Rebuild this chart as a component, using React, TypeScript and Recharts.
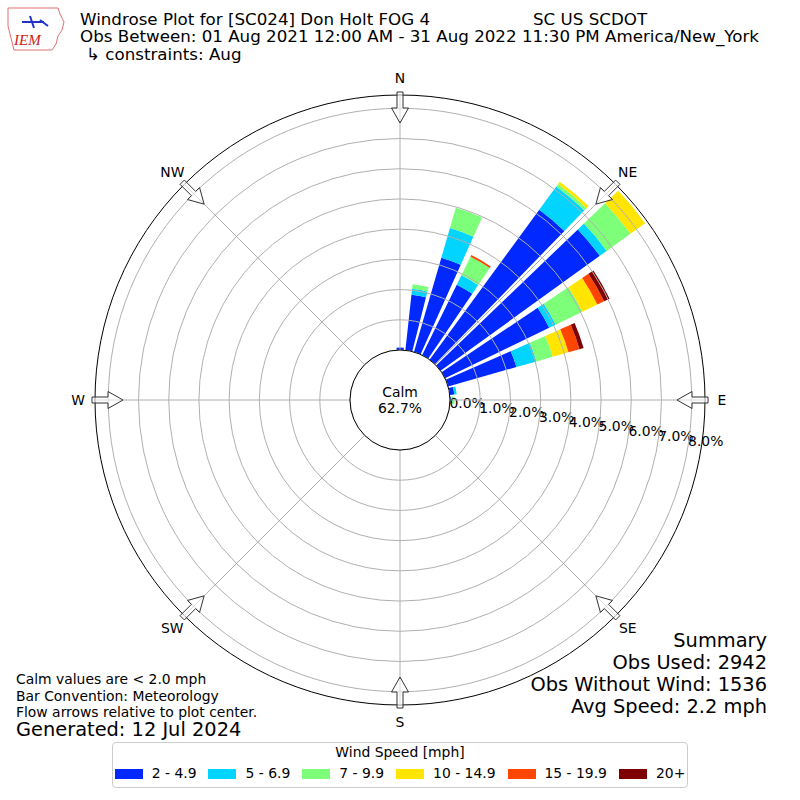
import React from 'react';
import {
  RadialBarChart,
  RadialBar,
  PolarAngleAxis,
  PolarRadiusAxis,
  PolarGrid,
  Legend,
} from 'recharts';

// direction bins, degrees clockwise from north
const directions = [
  0, 10, 20, 30, 40, 50, 60, 70, 80, 90, 100, 110, 120, 130, 140, 150, 160, 170,
  180, 190, 200, 210, 220, 230, 240, 250, 260, 270, 280, 290, 300, 310, 320, 330, 340, 350,
];

// percent of observations per direction, one array per speed bin
const pct2to5 = [
  0.08, 1.85, 3.25, 2.6, 6.15, 6.5, 3.83, 2.35, 0.15, 0.03, 0, 0, 0, 0, 0, 0, 0, 0,
  0, 0, 0, 0, 0, 0, 0, 0, 0, 0, 0, 0, 0, 0, 0, 0, 0, 0,
];
const pct5to7 = [
  0, 0.2, 1.02, 0.35, 0.95, 0.28, 0.24, 0.69, 0.08, 0, 0, 0, 0, 0, 0, 0, 0, 0,
  0, 0, 0, 0, 0, 0, 0, 0, 0, 0, 0, 0, 0, 0, 0, 0, 0, 0,
];
const pct7to10 = [
  0, 0.15, 0.7, 0.68, 0.1, 0.97, 0.98, 0.56, 0, 0.12, 0, 0, 0, 0, 0, 0, 0, 0,
  0, 0, 0, 0, 0, 0, 0, 0, 0, 0, 0, 0, 0, 0, 0, 0, 0, 0,
];
const pct10to15 = [
  0, 0, 0, 0, 0.1, 0.6, 0.55, 0.54, 0, 0, 0, 0, 0, 0, 0, 0, 0, 0,
  0, 0, 0, 0, 0, 0, 0, 0, 0, 0, 0, 0, 0, 0, 0, 0, 0, 0,
];
const pct15to20 = [
  0, 0, 0, 0.06, 0, 0, 0.25, 0.38, 0, 0, 0, 0, 0, 0, 0, 0, 0, 0,
  0, 0, 0, 0, 0, 0, 0, 0, 0, 0, 0, 0, 0, 0, 0, 0, 0, 0,
];
const pct20plus = [
  0, 0, 0, 0, 0, 0, 0.2, 0.14, 0, 0, 0, 0, 0, 0, 0, 0, 0, 0,
  0, 0, 0, 0, 0, 0, 0, 0, 0, 0, 0, 0, 0, 0, 0, 0, 0, 0,
];

const speedBins = ['2 - 4.9', '5 - 6.9', '7 - 9.9', '10 - 14.9', '15 - 19.9', '20+'];
const binKeys = ['s1', 's2', 's3', 's4', 's5', 's6'];
const binColors = ['#0028ff', '#00d4ff', '#7dff7a', '#ffe500', '#ff4600', '#7f0000'];

const radiusTicks = [0, 1, 2, 3, 4, 5, 6, 7, 8];
const compassPoints = ['N', 'NE', 'E', 'SE', 'S', 'SW', 'W', 'NW'];
const compassDegrees = [0, 45, 90, 135, 180, 225, 270, 315];

const calmPct = 62.7;

const FONT = '"DejaVu Sans", sans-serif';
const SMALL = 13.9;
const CX = 400;
const CY = 400;
const INNER_R = 50;
const OUTER_R = 305;

const chartData = directions.map((dir, i) => ({
  dir,
  s1: pct2to5[i],
  s2: pct5to7[i],
  s3: pct7to10[i],
  s4: pct10to15[i],
  s5: pct15to20[i],
  s6: pct20plus[i],
}));

const renderCompassTick = (props: any) => {
  const value = props.payload.value;
  const idx = compassDegrees.indexOf(value);
  const a = ((90 - value) * Math.PI) / 180;
  const ux = Math.cos(a);
  const uy = -Math.sin(a);
  const vx = -uy;
  const vy = ux;
  const pt = (r: number, w: number) => `${CX + ux * r + vx * w},${CY + uy * r + vy * w}`;
  const arrow = [
    pt(308, -3), pt(292, -3), pt(292, -8.5), pt(277, 0), pt(292, 8.5), pt(292, 3), pt(308, 3),
  ].join(' ');
  return (
    <g>
      <polygon points={arrow} fill="#ffffff" fillOpacity={0.55} stroke="#333" strokeWidth={1} />
      <text
        x={CX + ux * 322}
        y={CY + uy * 322}
        textAnchor="middle"
        dominantBaseline="central"
        fontSize={SMALL}
        fontFamily={FONT}
        fill="#000"
      >
        {compassPoints[idx]}
      </text>
    </g>
  );
};

const renderRadiusTick = (props: any) => (
  <text x={props.x} y={props.y} textAnchor="start" fontSize={SMALL} fontFamily={FONT} fill="#000">
    {`${Number(props.payload.value).toFixed(1)}%`}
  </text>
);

const renderLegend = () => (
  <div
    style={{
      boxSizing: 'border-box',
      width: 576,
      height: 46,
      border: '1px solid #cccccc',
      borderRadius: 4,
      background: '#fff',
      fontFamily: FONT,
      fontSize: SMALL,
      color: '#000',
    }}
  >
    <div style={{ textAlign: 'center', marginTop: 1, lineHeight: '17px' }}>Wind Speed [mph]</div>
    <div style={{ display: 'flex', justifyContent: 'center', alignItems: 'center', marginTop: 4, gap: 12 }}>
      {speedBins.map((label, i) => (
        <div key={label} style={{ display: 'flex', alignItems: 'center', lineHeight: '17px' }}>
          <span style={{ display: 'inline-block', width: 28, height: 10, background: binColors[i], marginRight: 9 }} />
          <span>{label}</span>
        </div>
      ))}
    </div>
  </div>
);

const App: React.FC = () => {
  return (
    <div style={{ position: 'absolute', left: 0, top: 0, width: 800, height: 800, background: '#fff', fontFamily: FONT }}>
      <RadialBarChart
        width={800}
        height={800}
        data={chartData}
        layout="centric"
        cx={CX}
        cy={CY}
        innerRadius={INNER_R}
        outerRadius={OUTER_R}
        startAngle={85}
        endAngle={-275}
        barCategoryGap="8%"
        margin={{ top: 0, right: 0, bottom: 0, left: 0 }}
      >
        <PolarAngleAxis
          type="category"
          dataKey="dir"
          tick={false}
          tickLine={false}
          axisLineType="circle"
          axisLine={{ stroke: '#000', strokeWidth: 1 }}
        />
        <PolarRadiusAxis
          type="number"
          domain={[0, 8.44]}
          ticks={radiusTicks}
          allowDataOverflow
          angle={-9}
          axisLine={false}
          tickLine={false}
          tick={renderRadiusTick}
        />
        {binKeys.map((key, i) => (
          <RadialBar
            key={key}
            dataKey={key}
            name={speedBins[i]}
            stackId="speed"
            fill={binColors[i]}
            isAnimationActive={false}
          />
        ))}
        <PolarGrid
          gridType="circle"
          polarAngles={compassDegrees.map((d) => 90 - d)}
          stroke="#b0b0b0"
          strokeWidth={1}
          zIndex={600}
        />
        <PolarAngleAxis
          angleAxisId="compass"
          type="number"
          domain={[0, 360]}
          ticks={compassDegrees}
          tick={renderCompassTick}
          tickLine={false}
          axisLine={false}
          zIndex={700}
        />
        <Legend
          content={renderLegend}
          wrapperStyle={{ position: 'absolute', left: 112, top: 742, width: 576, height: 46 }}
        />
      </RadialBarChart>

      <svg
        width={800}
        height={800}
        style={{ position: 'absolute', left: 0, top: 0, pointerEvents: 'none' }}
        fontFamily={FONT}
      >
        {/* IEM logo */}
        <g>
          <path
            d="M8 8 L58 8 L60 14 L64 22 L62 30 L58 36 L56 44 L52 50 L14 50 L12 42 L10 34 L8 26 Z"
            fill="none"
            stroke="#e07070"
            strokeWidth={1}
          />
          <path d="M22 22 L44 22 M40 20 L48 26 M30 16 L34 28" stroke="#2233cc" strokeWidth={2} fill="none" />
          <text x={14} y={45} fontSize={15} fontStyle="italic" fontFamily='"Liberation Serif", serif' fill="#d02020">
            IEM
          </text>
        </g>

        <text x={80} y={25} fontSize={16.7} fill="#000">Windrose Plot for [SC024] Don Holt FOG 4</text>
        <text x={533} y={25} fontSize={16.7} fill="#000">SC US SCDOT</text>
        <text x={80} y={42} fontSize={16.7} fill="#000">
          Obs Between: 01 Aug 2021 12:00 AM - 31 Aug 2022 11:30 PM America/New_York
        </text>
        <text x={86} y={60} fontSize={16.7} fill="#000">↳ constraints: Aug</text>

        <circle cx={CX} cy={CY} r={INNER_R} fill="#fff" stroke="#000" strokeWidth={1} />
        <text x={CX} y={CY - 3} textAnchor="middle" fontSize={SMALL} fill="#000">Calm</text>
        <text x={CX} y={CY + 13} textAnchor="middle" fontSize={SMALL} fill="#000">{`${calmPct}%`}</text>

        <text x={16} y={684} fontSize={SMALL} fill="#000">Calm values are &lt; 2.0 mph</text>
        <text x={16} y={701} fontSize={SMALL} fill="#000">Bar Convention: Meteorology</text>
        <text x={16} y={717} fontSize={SMALL} fill="#000">Flow arrows relative to plot center.</text>
        <text x={16} y={736} fontSize={19.4} fill="#000">Generated: 12 Jul 2024</text>

        <text x={767} y={647} textAnchor="end" fontSize={19.4} fill="#000">Summary</text>
        <text x={767} y={669} textAnchor="end" fontSize={19.4} fill="#000">Obs Used: 2942</text>
        <text x={767} y={691} textAnchor="end" fontSize={19.4} fill="#000">Obs Without Wind: 1536</text>
        <text x={767} y={713} textAnchor="end" fontSize={19.4} fill="#000">Avg Speed: 2.2 mph</text>
      </svg>
    </div>
  );
};

export default App;
